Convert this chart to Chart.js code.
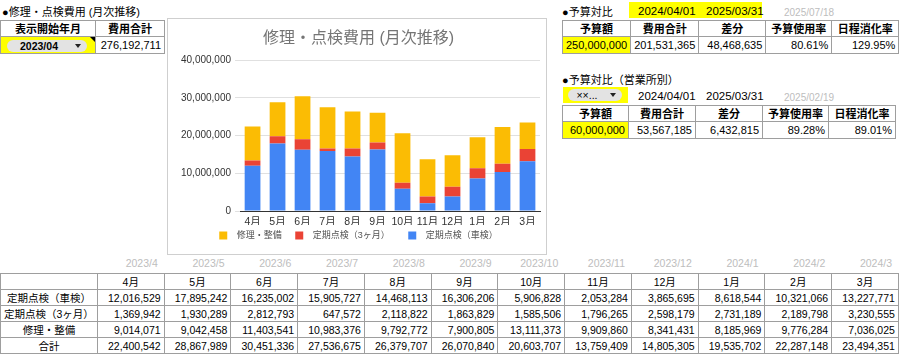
<!DOCTYPE html>
<html>
<head>
<meta charset="utf-8">
<script src="https://cdn.jsdelivr.net/npm/chart.js@4.4.1/dist/chart.umd.min.js"></script>
<style>
  body { margin: 0; background: #fff; font-family: 'Liberation Sans', 'Noto Sans CJK JP', sans-serif; color: #000; }
  #page { position: relative; width: 900px; height: 363px; overflow: hidden; }
  .lbl { position: absolute; font-size: 11px; line-height: 14px; white-space: nowrap; }
  .gray { color: #bdbdbd; font-size: 10.5px; }
  table { position: absolute; border-collapse: collapse; table-layout: fixed; }
  td { border: 1px solid #9e9e9e; padding: 0 3px; font-size: 11px; line-height: 14px; white-space: nowrap; overflow: hidden; }
  td.h { font-weight: bold; text-align: center; }
  td.c { text-align: center; }
  td.r { text-align: right; }
  .yel { background: #ffff00; }
  .pill { position: absolute; background: #e3e3e3; border-radius: 6px; height: 12px; line-height: 12px; font-size: 10.5px; }
  .pill span { position: absolute; left: 0; right: 16px; text-align: center; }
  .pill i { position: absolute; right: 6px; top: 4px; width: 0; height: 0; border-left: 3.5px solid transparent; border-right: 3.5px solid transparent; border-top: 4px solid #222; }
  #chartBox { position: absolute; left: 167px; top: 18px; width: 378px; height: 235px; border: 1px solid #cfcfcf; }
  #chartBox canvas { position: absolute; left: 0; top: 0; }
  #bottom td { height: 15px; font-size: 10.5px; }
  .corner { position: absolute; width: 0; height: 0; border-top: 5px solid #000; border-left: 5px solid transparent; }
</style>
</head>
<body>
<div id="page">
  <!-- top left -->
  <div class="lbl" style="left:2px;top:5px">●修理・点検費用 (月次推移)</div>
  <table style="left:0;top:20px">
    <colgroup><col style="width:95px"><col style="width:69px"></colgroup>
    <tr style="height:16px"><td class="h">表示開始年月</td><td class="h">費用合計</td></tr>
    <tr style="height:17px"><td class="yel"></td><td class="r" id="grandTotal"></td></tr>
  </table>
  <div class="pill" style="left:7px;top:40px;width:80px;font-weight:bold"><span>2023/04</span><i></i></div>
  <div class="corner" style="left:90px;top:37px"></div>

  <!-- chart -->
  <div id="chartBox"><canvas id="costChart" width="378" height="235"></canvas></div>

  <!-- budget block 1 -->
  <div class="lbl" style="left:562px;top:5px">●予算対比</div>
  <div class="yel" style="position:absolute;left:629px;top:2px;width:133px;height:16px"></div>
  <div class="lbl" style="left:638px;top:4px;font-size:11.5px">2024/04/01</div>
  <div class="lbl" style="left:706px;top:4px;font-size:11.5px">2025/03/31</div>
  <div class="lbl gray" style="left:784px;top:6px;font-size:10px">2025/07/18</div>
  <table style="left:562px;top:20px" id="budget1"></table>

  <!-- budget block 2 -->
  <div class="lbl" style="left:562px;top:73px">●予算対比（営業所別）</div>
  <div class="yel" style="position:absolute;left:563px;top:87px;width:65px;height:16px"></div>
  <div class="pill" style="left:568px;top:89px;width:54px"><span>××...</span><i></i></div>
  <div class="lbl" style="left:638px;top:89px;font-size:11.5px">2024/04/01</div>
  <div class="lbl" style="left:706px;top:89px;font-size:11.5px">2025/03/31</div>
  <div class="lbl gray" style="left:784px;top:91px;font-size:10px">2025/02/19</div>
  <table style="left:562px;top:105px" id="budget2"></table>

  <!-- bottom table -->
  <table id="bottom" style="left:0;top:273px"></table>
</div>

<script>
const FONT = "'Liberation Sans', 'Noto Sans CJK JP', sans-serif";

// data
const months = ['4月', '5月', '6月', '7月', '8月', '9月', '10月', '11月', '12月', '1月', '2月', '3月'];
const yearLabels = ['2023/4', '2023/5', '2023/6', '2023/7', '2023/8', '2023/9', '2023/10', '2023/11', '2023/12', '2024/1', '2024/2', '2024/3'];
const shaken = [12016529, 17895242, 16235002, 15905727, 14468113, 16306206, 5906828, 2053284, 3865695, 8618544, 10321066, 13227771];
const quarterly = [1369942, 1930289, 2812793, 647572, 2118822, 1863829, 1585506, 1796265, 2598179, 2731189, 2189798, 3230555];
const repair = [9014071, 9042458, 11403541, 10983376, 9792772, 7900805, 13111373, 9909860, 8341431, 8185969, 9776284, 7036025];
const totals = [22400542, 28867989, 30451336, 27536675, 26379707, 26070840, 20603707, 13759409, 14805305, 19535702, 22287148, 23494351];
const seriesNames = ['定期点検（車検）', '定期点検（3ヶ月）', '修理・整備'];
const yTicks = [0, 10000000, 20000000, 30000000, 40000000];

const grandTotal = 276192711;
const budgetHead = ['予算額', '費用合計', '差分', '予算使用率', '日程消化率'];
const budget1 = ['250,000,000', '201,531,365', '48,468,635', '80.61%', '129.95%'];
const budget2 = ['60,000,000', '53,567,185', '6,432,815', '89.28%', '89.01%'];

const fmt = v => v.toLocaleString('en-US');

document.getElementById('grandTotal').textContent = fmt(grandTotal);

// budget tables
function fillBudget(id, vals) {
  const t = document.getElementById(id);
  let html = '<colgroup>' + [66, 67, 67, 66, 67].map(w => `<col style="width:${w}px">`).join('') + '</colgroup>';
  html += '<tr style="height:16px">' + budgetHead.map(h => `<td class="h">${h}</td>`).join('') + '</tr>';
  html += '<tr style="height:17px">' + vals.map((v, i) => `<td class="r${i === 0 ? ' yel' : ''}">${v}</td>`).join('') + '</tr>';
  t.innerHTML = html;
}
fillBudget('budget1', budget1);
fillBudget('budget2', budget2);

// bottom table
(function () {
  const t = document.getElementById('bottom');
  const cw = 66.75;
  let html = '<colgroup><col style="width:95px">' + months.map(() => `<col style="width:${cw}px">`).join('') + '</colgroup>';
  html += '<tr><td></td>' + months.map(m => `<td class="c">${m}</td>`).join('') + '</tr>';
  const rows = [[seriesNames[0], shaken], [seriesNames[1], quarterly], [seriesNames[2], repair], ['合計', totals]];
  rows.forEach(([name, arr]) => {
    html += `<tr><td class="c">${name}</td>` + arr.map(v => `<td class="r">${fmt(v)}</td>`).join('') + '</tr>';
  });
  t.innerHTML = html;
  // year labels above columns
  const page = document.getElementById('page');
  yearLabels.forEach((y, i) => {
    const d = document.createElement('div');
    d.className = 'lbl gray';
    d.style.top = '256px';
    d.style.width = '60px';
    d.style.textAlign = 'right';
    d.style.left = (95 + cw * (i + 1) - 64) + 'px';
    d.textContent = y;
    page.appendChild(d);
  });
})();

// legend: wider gaps like the sheet chart (box -> text, item -> item)
const legendPad = ['   ', '     ', ''];
function legendLabels(chart) {
  const items = Chart.defaults.plugins.legend.labels.generateLabels(chart);
  items.forEach(it => { it.text = '  ' + it.text + legendPad[2 - it.datasetIndex]; });
  return items;
}

// chart
const ctx = document.getElementById('costChart');
new Chart(ctx, {
  type: 'bar',
  data: {
    labels: months,
    datasets: [
      { label: seriesNames[0], data: shaken, backgroundColor: '#4285f4' },
      { label: seriesNames[1], data: quarterly, backgroundColor: '#ea4335' },
      { label: seriesNames[2], data: repair, backgroundColor: '#fbbc04' }
    ]
  },
  options: {
    responsive: false,
    animation: false,
    layout: { padding: { left: 9, right: 6, top: 0, bottom: 4 } },
    datasets: { bar: { barPercentage: 0.63, categoryPercentage: 1 } },
    plugins: {
      title: {
        display: true,
        text: '修理・点検費用 (月次推移)',
        color: '#757575',
        font: { family: FONT, size: 16, weight: 'normal' },
        padding: { top: 10, bottom: 12 }
      },
      legend: {
        position: 'bottom',
        reverse: true,
        labels: { boxWidth: 8, boxHeight: 8, color: '#555', padding: 6, font: { family: FONT, size: 9 }, generateLabels: legendLabels }
      },
      tooltip: { enabled: false }
    },
    scales: {
      x: {
        stacked: true,
        grid: { display: false, drawTicks: false },
        border: { color: '#333' },
        afterFit: s => { s.height = 14; },
        ticks: { color: '#333', font: { family: FONT, size: 10.5 }, padding: 5, maxRotation: 0, minRotation: 0, autoSkip: false }
      },
      y: {
        stacked: true,
        min: yTicks[0],
        max: yTicks[yTicks.length - 1],
        afterBuildTicks: s => { s.ticks = yTicks.map(v => ({ value: v })); },
        grid: { color: '#e0e0e0', tickLength: 5 },
        border: { display: false },
        ticks: { color: '#333', font: { family: FONT, size: 10 }, padding: 4, callback: v => fmt(v) }
      }
    }
  }
});
</script>
</body>
</html>
